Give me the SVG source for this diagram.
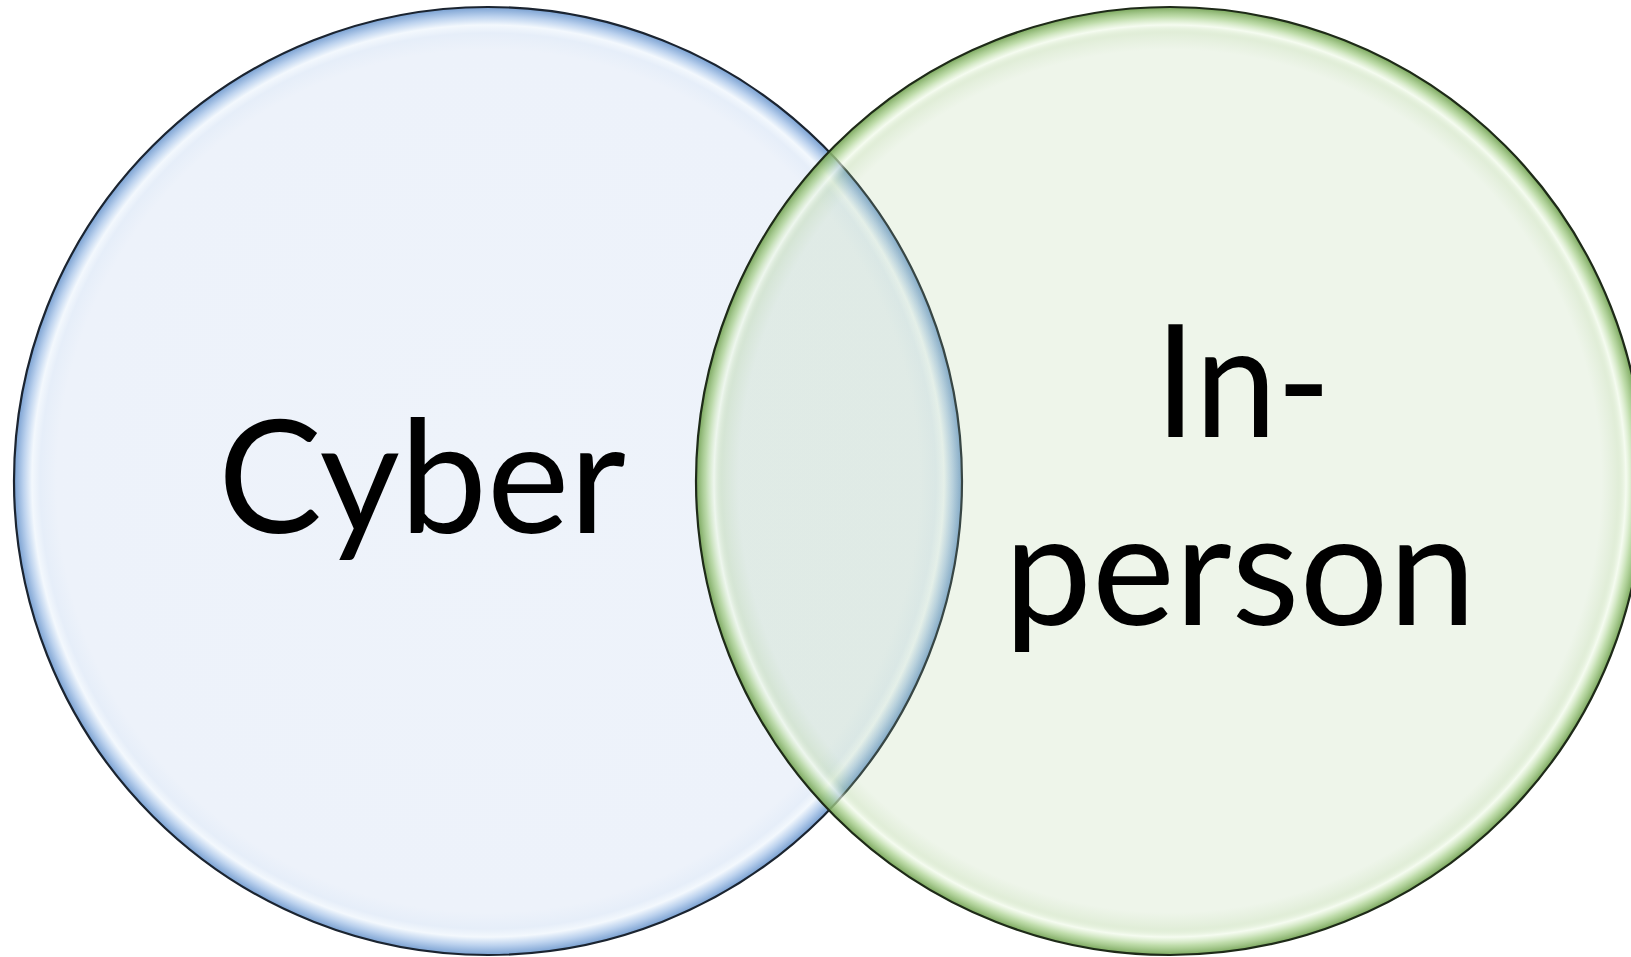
<svg xmlns="http://www.w3.org/2000/svg" width="1631" height="957" viewBox="0 0 1631 957">
<style>
.lbl{font-family:Lato,"Open Sans","Liberation Sans",sans-serif;font-size:158px;fill:#000;text-anchor:middle}
.ring{fill:none;stroke-width:2.2}
</style>
<defs>
<radialGradient id="gb" cx="0.5" cy="0.5" r="0.5">
<stop offset="0" stop-color="#EEF3FA"/>
<stop offset="0.91" stop-color="#EDF2FA"/>
<stop offset="0.945" stop-color="#E6EEF9"/>
<stop offset="0.962" stop-color="#F3F8FD"/>
<stop offset="0.98" stop-color="#BCD2EE"/>
<stop offset="1" stop-color="#7AA1D2"/>
</radialGradient>
<radialGradient id="gg" cx="0.5" cy="0.5" r="0.5">
<stop offset="0" stop-color="#AACD96" stop-opacity="0.2"/>
<stop offset="0.91" stop-color="#AACD96" stop-opacity="0.2"/>
<stop offset="0.945" stop-color="#A2C987" stop-opacity="0.32"/>
<stop offset="0.962" stop-color="#EEF9E6" stop-opacity="0.6"/>
<stop offset="0.98" stop-color="#AAD18F" stop-opacity="0.75"/>
<stop offset="1" stop-color="#74A355" stop-opacity="0.95"/>
</radialGradient>
</defs>
<g id="cyber">
<circle cx="488" cy="481" r="474" fill="url(#gb)"/>
<circle class="ring" cx="488" cy="481" r="474" stroke="#1B2430"/>
<text class="lbl" x="422" y="533" textLength="408" lengthAdjust="spacingAndGlyphs">Cyber</text>
</g>
<g id="inperson">
<circle cx="1170" cy="481" r="474" fill="url(#gg)"/>
<circle class="ring" cx="1170" cy="481" r="474" stroke="#1E2A18"/>
<text class="lbl" x="1243" y="437" textLength="176" lengthAdjust="spacingAndGlyphs">In-</text>
<text class="lbl" x="1240" y="625" textLength="472" lengthAdjust="spacingAndGlyphs">person</text>
</g>
<g id="connectors"/>
</svg>
